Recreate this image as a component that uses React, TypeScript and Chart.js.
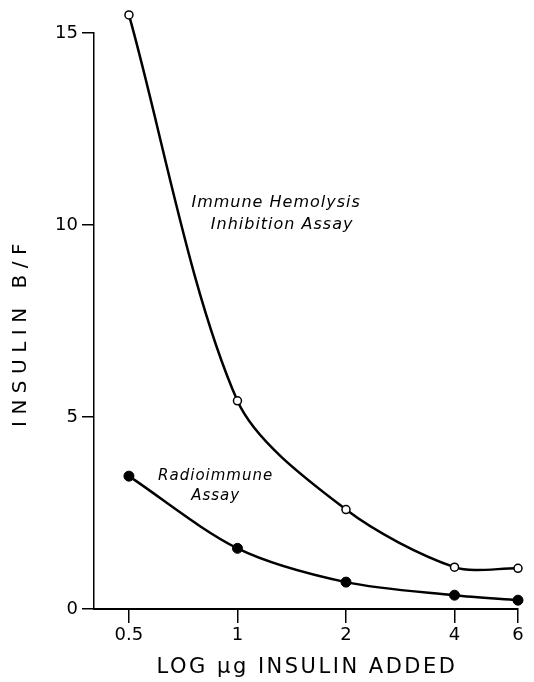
import React, { useEffect, useRef } from 'react';
import { Chart, registerables } from 'chart.js';

Chart.register(...registerables);

const doses = [0.5, 1, 2, 4, 6];
const hemolysisBF = [15.47, 5.42, 2.59, 1.09, 1.06];
const radioimmuneBF = [3.46, 1.58, 0.7, 0.36, 0.23];
const xTickValues = [0.5, 1, 2, 4, 6];
const yTickValues = [0, 5, 10, 15];
const xTitle = 'LOG μg INSULIN ADDED';
const yTitle = 'INSULIN B/F';
const hemolysisLabel = ['Immune Hemolysis', 'Inhibition Assay'];
const radioLabel = ['Radioimmune', 'Assay'];
// annotation anchors in data units (x dose, y B/F)
const hemolysisAnchor = { x: 1.28, y: 10.3 };
const radioAnchor = { x: 0.87, y: 3.2 };

const FONT = '"DejaVu Sans", "Liberation Sans", sans-serif';

// let points that sit just above the plotting area (the 15.5 value) be drawn
const overflowPlugin = {
  id: 'overflow',
  beforeDatasetsDraw(chart: any) {
    chart.$savedArea = chart.chartArea;
    const a = chart.chartArea;
    chart.chartArea = { ...a, top: a.top - 30 };
  },
  afterDatasetsDraw(chart: any) {
    if (chart.$savedArea) chart.chartArea = chart.$savedArea;
  },
};

const textPlugin = {
  id: 'customText',
  afterDraw(chart: any) {
    const ctx = chart.ctx as CanvasRenderingContext2D;
    const xs = chart.scales.x;
    const ys = chart.scales.y;
    ctx.save();
    ctx.fillStyle = '#000';
    ctx.textAlign = 'center';
    ctx.textBaseline = 'middle';

    // annotations
    ctx.font = `italic 16px ${FONT}`;
    (ctx as any).letterSpacing = '1px';
    const hx = xs.getPixelForValue(hemolysisAnchor.x);
    const hy = ys.getPixelForValue(hemolysisAnchor.y);
    ctx.fillText(hemolysisLabel[0], hx, hy - 11);
    ctx.fillText(hemolysisLabel[1], hx + 6, hy + 11);

    ctx.font = `italic 15px ${FONT}`;
    (ctx as any).letterSpacing = '1px';
    const cx = xs.getPixelForValue(radioAnchor.x);
    const cy = ys.getPixelForValue(radioAnchor.y);
    ctx.fillText(radioLabel[0], cx, cy - 10);
    ctx.fillText(radioLabel[1], cx, cy + 10);

    // axis titles
    ctx.font = `21px ${FONT}`;
    (ctx as any).letterSpacing = '2.5px';
    ctx.fillText(xTitle, 307, 668);
    ctx.save();
    ctx.translate(21, 332);
    ctx.rotate(-Math.PI / 2);
    ctx.font = `20px ${FONT}`;
    (ctx as any).letterSpacing = '6.5px';
    ctx.fillText(yTitle, 0, 0);
    ctx.restore();
    ctx.restore();
  },
};

export default function App() {
  const ref = useRef<HTMLCanvasElement>(null);
  useEffect(() => {
    document.body.style.margin = '0';
    const canvas = ref.current!;
    const chart = new Chart(canvas, {
      type: 'line',
      data: {
        labels: doses,
        datasets: [
          {
            label: 'Immune Hemolysis Inhibition Assay',
            data: doses.map((d, i) => ({ x: d, y: hemolysisBF[i] })),
            borderColor: '#000',
            borderWidth: 2.5,
            pointRadius: 4,
            pointBorderWidth: 1.5,
            pointBackgroundColor: '#fff',
            pointBorderColor: '#000',
            tension: 0.3,
            clip: false,
          },
          {
            label: 'Radioimmune Assay',
            data: doses.map((d, i) => ({ x: d, y: radioimmuneBF[i] })),
            borderColor: '#000',
            borderWidth: 2.5,
            pointRadius: 5,
            pointBorderWidth: 1,
            pointBackgroundColor: '#000',
            pointBorderColor: '#000',
            tension: 0.3,
            clip: false,
          },
        ],
      },
      options: {
        responsive: false,
        animation: false,
        layout: { padding: { top: 33, right: 16, left: 0, bottom: 0 } },
        plugins: { legend: { display: false }, tooltip: { enabled: false } },
        scales: {
          x: {
            type: 'logarithmic',
            min: 0.4,
            max: 6,
            afterBuildTicks: (s: any) => {
              s.ticks = xTickValues.map((v) => ({ value: v }));
            },
            afterFit: (s: any) => {
              s.height = 73;
            },
            grid: { drawOnChartArea: false, tickLength: 14, color: '#000', lineWidth: 1.5 },
            border: { color: '#000', width: 2 },
            ticks: {
              color: '#000',
              font: { family: FONT, size: 18 },
              padding: 2,
              maxRotation: 0,
              autoSkip: false,
              callback: (v: any) => String(v),
            },
          },
          y: {
            type: 'linear',
            min: 0,
            max: 15,
            afterBuildTicks: (s: any) => {
              s.ticks = yTickValues.map((v) => ({ value: v }));
            },
            afterFit: (s: any) => {
              s.width = 94;
            },
            grid: { drawOnChartArea: false, tickLength: 12, color: '#000', lineWidth: 1.5 },
            border: { color: '#000', width: 1.5 },
            ticks: {
              color: '#000',
              font: { family: FONT, size: 18 },
              padding: 4,
              callback: (v: any) => String(v),
            },
          },
        },
      },
      plugins: [overflowPlugin, textPlugin],
    } as any);
    return () => chart.destroy();
  }, []);
  return (
    <div style={{ width: 534, height: 682 }}>
      <canvas ref={ref} width={534} height={682} style={{ display: 'block' }} />
    </div>
  );
}
